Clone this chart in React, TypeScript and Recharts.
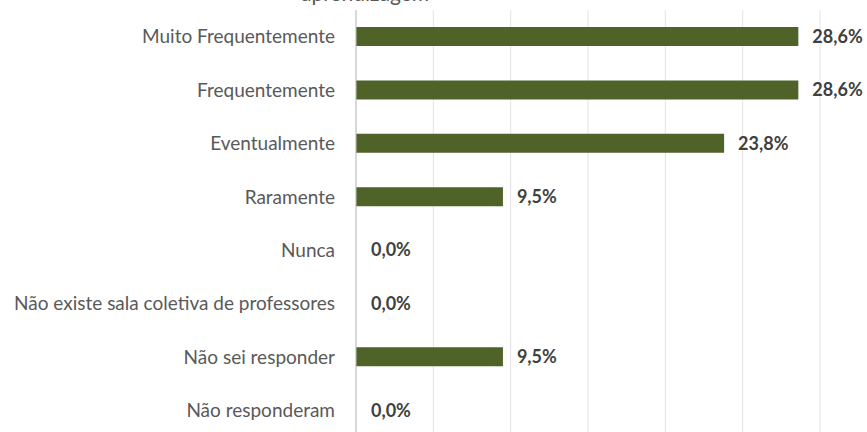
import { BarChart, Bar, XAxis, YAxis, CartesianGrid, LabelList, Cell } from "recharts";

const categories = [
  "Muito Frequentemente",
  "Frequentemente",
  "Eventualmente",
  "Raramente",
  "Nunca",
  "Não existe sala coletiva de professores",
  "Não sei responder",
  "Não responderam",
];
const percents = [28.6, 28.6, 23.8, 9.5, 0.0, 0.0, 9.5, 0.0];
const xTicks = [0, 5, 10, 15, 20, 25, 30];

const data = categories.map((name, i) => ({ name, value: percents[i] }));

const FONT = "Lato, 'Open Sans', sans-serif";

const fmt = (v: unknown) => `${Number(v).toFixed(1).replace(".", ",")}%`;

export default function App() {
  return (
    <div
      style={{
        position: "fixed",
        top: 0,
        left: 0,
        width: 867,
        height: 432,
        overflow: "hidden",
        background: "#fff",
        fontFamily: FONT,
      }}
    >
      <div
        style={{
          position: "absolute",
          top: -20,
          left: 255,
          width: 220,
          textAlign: "center",
          fontSize: 21,
          color: "#595959",
        }}
      >
        aprendizagem
      </div>
      <BarChart
        width={867}
        height={447}
        data={data}
        layout="vertical"
        margin={{ top: 10, right: 47, bottom: 10, left: 0 }}
      >
        <CartesianGrid horizontal={false} stroke="#e3e3e3" />
        <XAxis type="number" domain={[0, 30]} ticks={xTicks} hide />
        <YAxis
          type="category"
          dataKey="name"
          width={356}
          axisLine={{ stroke: "#bfbfbf" }}
          tickLine={false}
          tickMargin={15}
          tick={{ fill: "#595959", fontSize: 19, fontFamily: FONT }}
        />
        <Bar
          dataKey="value"
          fill="#4f6228"
          barSize={19}
          minPointSize={1}
          isAnimationActive={false}
        >
          {data.map((d) => (
            <Cell key={d.name} fill={d.value > 0 ? "#4f6228" : "none"} />
          ))}
          <LabelList
            dataKey="value"
            position="right"
            offset={14}
            formatter={fmt}
            fill="#404040"
            fontSize={18}
            fontWeight={700}
            fontFamily={FONT}
          />
        </Bar>
      </BarChart>
    </div>
  );
}
